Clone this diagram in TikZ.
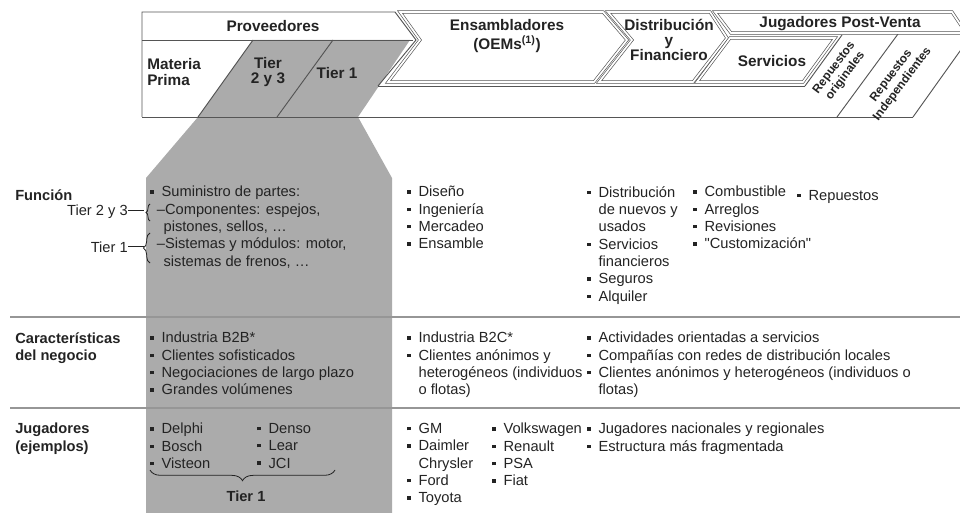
\documentclass[tikz,border=0pt]{standalone}
\usepackage{fontspec}
\setmainfont{Liberation Sans}
\usetikzlibrary{decorations.pathreplacing}

\definecolor{colgray}{RGB}{171,171,171}
\definecolor{linegray}{RGB}{85,85,85}
\definecolor{sepgray}{RGB}{150,150,150}
\definecolor{txt}{RGB}{35,35,35}
\newcommand{\bul}{\makebox[8.5pt][l]{\rule[2.4pt]{2.5pt}{2.5pt}}}
\newcommand{\ind}{\hspace*{8.5pt}}
\newcommand{\tp}{\rule{0pt}{10.5pt}}

\tikzset{
  hdr/.style={font=\bfseries\fontsize{11.5}{11.3}\selectfont, align=center, inner sep=0pt, text=txt},
  lbl/.style={font=\bfseries\fontsize{11}{13}\selectfont, align=left, anchor=north west, inner sep=0pt, text=txt, execute at begin node=\tp},
  cell/.style={font=\fontsize{11}{13}\selectfont, align=left, anchor=north west, inner sep=0pt, text=txt, execute at begin node=\tp},
  rot/.style={font=\bfseries\fontsize{9}{10.5}\selectfont, align=center, inner sep=0pt, rotate=53, text=txt},
  frame/.style={draw=linegray, line width=0.7pt},
  chev/.style={draw=linegray, line width=0.5pt, double=white, double distance=1.3pt, line join=miter},
  sep/.style={draw=sepgray, line width=1.3pt},
  brc/.style={decorate, decoration={brace, amplitude=#1}, draw=txt, line width=0.6pt},
  brc/.default=4pt,
}

\begin{document}
\begin{tikzpicture}[x=0.75pt,y=-0.75pt]
    \useasboundingbox (0,0) rectangle (960,513);
    \clip (0,0) rectangle (960,513);
    % supplier column
    \fill[colgray] (253,40) -- (410,40) -- (358,117) -- (392,178) -- (392,513) -- (146,513) -- (146,178) -- (198,117) -- cycle;
    % value chain frame
    \draw[frame] (142,117) -- (142,12) -- (395,12) -- (416,40) -- (378,86);
    \draw[frame] (142,40) -- (413,40);
    \draw[frame] (253,40) -- (198,117);
    \draw[frame] (333,40) -- (277,117);
    \draw[frame] (142,117) -- (913,117);
    \draw[frame] (378,86) -- (805,86);
    \draw[frame] (842,35) -- (805,86);
    \draw[frame] (898,34) -- (837,117);
    \draw[frame] (975,30) -- (913,117);
    \draw[chev] (400,12) -- (603,12) -- (627,40) -- (594,82) -- (388,82) -- (420,40) -- cycle;
    \draw[chev] (608,12) -- (710,12) -- (727,38) -- (693,82) -- (599,82) -- (632,40) -- cycle;
    \draw[chev] (715,12) -- (952,12) -- (966,33) -- (731,33) -- cycle;
    \draw[chev] (730,38) -- (835,38) -- (803,82) -- (697,82) -- cycle;
    \node[hdr] (prov) at (273,26) {Proveedores};
    \node[hdr, align=left, anchor=west] (mprima) at (147,72) {Materia\\Prima};
    \node[hdr] (tier23) at (268,72) {Tier\\2 y 3};
    \node[hdr] (tier1) at (337,73) {Tier 1};
    \node[hdr, font=\bfseries\fontsize{11.5}{14}\selectfont] (ens) at (507,36) {Ensambladores\\(OEMs\textsuperscript{(1)})};
    \node[hdr] (dist) at (669,40) {Distribución\\y\\Financiero};
    \node[hdr] (postv) at (840,24) {Jugadores Post-Venta};
    \node[hdr] (serv) at (772,61) {Servicios};
    \node[rot] (reporig) at (840,72) {Repuestos\\originales};
    \node[rot] (repind) at (897,80) {Repuestos\\Independientes};
    % table rows
    \draw[sep] (10,317) -- (960,317);
    \draw[sep] (10,408) -- (960,408);
    \node[lbl] (funcion) at (15,186) {Función};
    \node[cell, anchor=base east] (lab23) at (128,216) {Tier 2 y 3};
    \node[cell, anchor=base east] (lab1) at (128,253) {Tier 1};
    \node[cell] (fprov) at (150,186) {\bul Suministro de partes:\\
        \hspace*{5pt}–Componentes: espejos,\\ \hspace*{10pt}pistones, sellos, …\\
        \hspace*{5pt}–Sistemas y módulos: motor,\\ \hspace*{10pt}sistemas de frenos, …};
    \node[cell] (fens) at (407,186) {\bul Diseño\\\bul Ingeniería\\\bul Mercadeo\\\bul Ensamble};
    \node[cell] (fdist) at (587,186) {\bul Distribución\\\ind de nuevos y\\\ind usados\\\bul Servicios\\\ind financieros\\\bul Seguros\\\bul Alquiler};
    \node[cell] (fserv) at (693,186) {\bul Combustible\\\bul Arreglos\\\bul Revisiones\\\bul \textquotedbl Customización\textquotedbl};
    \node[cell] (frep) at (797,186) {\bul Repuestos};
    \coordinate (tip23) at (144,212);
    \coordinate (tip1) at (144,248);
    \draw[brc=3pt] (150,221) -- (150,204);
    \draw[brc=5pt] (150,263) -- (150,233);
    \draw[draw=txt, line width=0.6pt] (lab23.east) -- (lab23.east -| tip23);
    \draw[draw=txt, line width=0.6pt] (lab1.east) -- (lab1.east -| tip1);
    \node[lbl] (caract) at (15,332) {Características\\del negocio};
    \node[cell] (cprov) at (150,332) {\bul Industria B2B*\\\bul Clientes sofisticados\\\bul Negociaciones de largo plazo\\\bul Grandes volúmenes};
    \node[cell] (cens) at (407,332) {\bul Industria B2C*\\\bul Clientes anónimos y\\\ind heterogéneos (individuos\\\ind o flotas)};
    \node[cell] (cpost) at (587,332) {\bul Actividades orientadas a servicios\\\bul Compañías con redes de distribución locales\\\bul Clientes anónimos y heterogéneos (individuos o\\\ind flotas)};
    \node[lbl] (jugad) at (15,423) {Jugadores\\(ejemplos)};
    \node[cell] (jprova) at (150,423) {\bul Delphi\\\bul Bosch\\\bul Visteon};
    \node[cell] (jprovb) at (257,423) {\bul Denso\\\bul Lear\\\bul JCI};
    \node[cell] (jensa) at (407,423) {\bul GM\\\bul Daimler\\\ind Chrysler\\\bul Ford\\\bul Toyota};
    \node[cell] (jensb) at (492,423) {\bul Volkswagen\\\bul Renault\\\bul PSA\\\bul Fiat};
    \node[cell] (jpost) at (587,423) {\bul Jugadores nacionales y regionales\\\bul Estructura más fragmentada};
    \draw[brc=8pt] (335,470) -- (150,470);
    \node[lbl, anchor=center] (tierb) at (246,495) {Tier 1};
\end{tikzpicture}
\end{document}
